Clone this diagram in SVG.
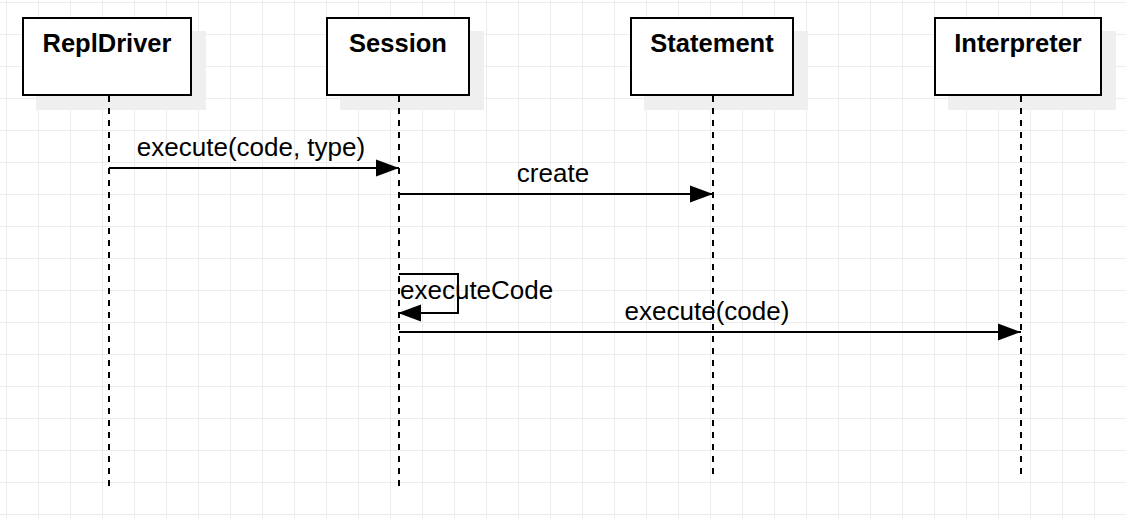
<svg xmlns="http://www.w3.org/2000/svg" width="1126" height="518" viewBox="0 0 1126 518">
<defs>
<style>
.grid line{stroke:#ececec;stroke-width:1}
.shadow{fill:#efefef}
.box{fill:#ffffff;stroke:#000000;stroke-width:2}
.title{font-family:"Liberation Sans",Arial,sans-serif;font-weight:bold;font-size:25.5px;fill:#000;text-anchor:middle}
.life{stroke:#000;stroke-width:2;stroke-dasharray:6 6;fill:none}
.msg{stroke:#000;stroke-width:2;fill:none;marker-end:url(#arr)}
.lbl{font-family:"Liberation Sans",Arial,sans-serif;font-size:26px;fill:#000}
</style>
<marker id="arr" markerUnits="userSpaceOnUse" markerWidth="24" markerHeight="18" refX="23" refY="8.5" orient="auto" overflow="visible">
<path d="M0,0 L23,8.5 L0,17 Z" fill="#000"/>
</marker>
<pattern id="gp" width="32" height="32" patternUnits="userSpaceOnUse" x="6" y="2">
<path d="M0.5,0 V32 M0,0.5 H32" stroke="#ececec" stroke-width="1" fill="none"/>
</pattern>
</defs>
<rect width="1126" height="518" fill="#ffffff"/>
<rect width="1126" height="518" fill="url(#gp)"/>

<g id="node-repldriver">
<rect class="shadow" x="36" y="31" width="170" height="79"/>
<rect class="box" x="23" y="18" width="168" height="77"/>
<text class="title" x="107" y="52">ReplDriver</text>
<line class="life" x1="109" y1="96" x2="109" y2="488"/>
</g>
<g id="node-session">
<rect class="shadow" x="340" y="31" width="144" height="79"/>
<rect class="box" x="327" y="18" width="142" height="77"/>
<text class="title" x="398" y="52">Session</text>
<line class="life" x1="399" y1="96" x2="399" y2="488"/>
</g>
<g id="node-statement">
<rect class="shadow" x="644" y="31" width="164" height="79"/>
<rect class="box" x="631" y="18" width="162" height="77"/>
<text class="title" x="712" y="52">Statement</text>
<line class="life" x1="713" y1="96" x2="713" y2="476"/>
</g>
<g id="node-interpreter">
<rect class="shadow" x="948" y="31" width="168" height="79"/>
<rect class="box" x="935" y="18" width="166" height="77"/>
<text class="title" x="1018" y="52">Interpreter</text>
<line class="life" x1="1021" y1="96" x2="1021" y2="476"/>
</g>

<g id="connectors">
<line class="msg" x1="109" y1="168" x2="399" y2="168"/>
<text class="lbl" x="251" y="156" text-anchor="middle">execute(code, type)</text>
<line class="msg" x1="399" y1="194" x2="713" y2="194"/>
<text class="lbl" x="553" y="182" text-anchor="middle">create</text>
<path class="msg" d="M399,274 H458 V313 H398"/>
<text class="lbl" x="400" y="299">executeCode</text>
<line class="msg" x1="399" y1="332" x2="1021" y2="332"/>
<text class="lbl" x="707" y="320" text-anchor="middle">execute(code)</text>
</g>
</svg>
